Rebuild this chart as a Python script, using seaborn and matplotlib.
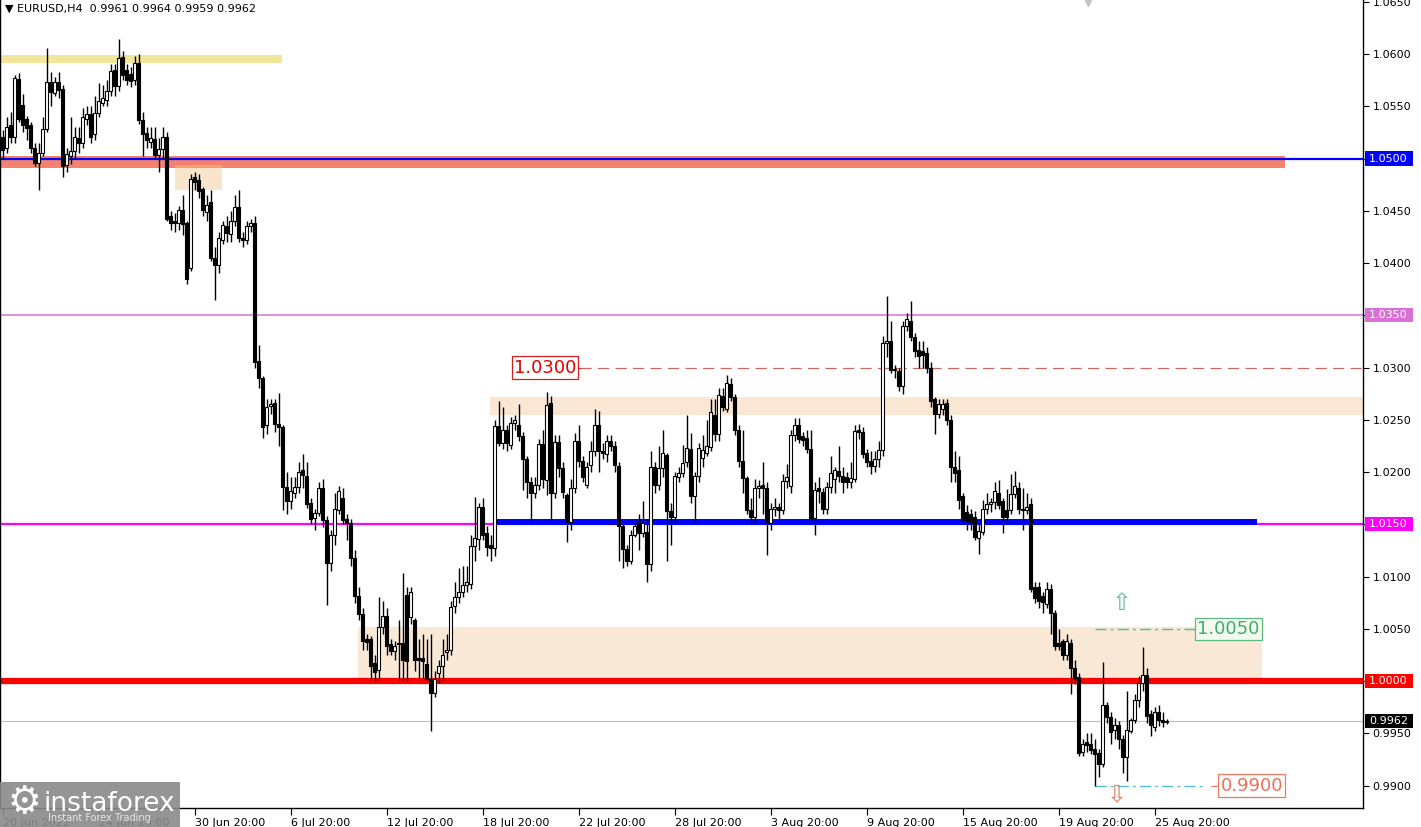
import numpy as np
import matplotlib
matplotlib.use("Agg")
import matplotlib.pyplot as plt
import matplotlib.transforms as mtransforms
from matplotlib.patches import Rectangle
import seaborn as sns

# EURUSD H4 candles (index 0 = 20 Jun 2022)
opens = [
    1.0521, 1.0510, 1.0532, 1.0521, 1.0576, 1.0551, 1.0538, 1.0532, 1.0510, 1.0496, 1.0505, 1.0528,
    1.0573, 1.0563, 1.0573, 1.0567, 1.0494, 1.0502, 1.0507, 1.0520, 1.0515, 1.0538, 1.0543, 1.0523,
    1.0544, 1.0553, 1.0556, 1.0565, 1.0585, 1.0569, 1.0597, 1.0585, 1.0581, 1.0575, 1.0591, 1.0537,
    1.0524, 1.0516, 1.0519, 1.0503, 1.0509, 1.0521, 1.0445, 1.0440, 1.0438, 1.0451, 1.0438, 1.0395,
    1.0482, 1.0479, 1.0471, 1.0449, 1.0458, 1.0405, 1.0398, 1.0422, 1.0435, 1.0428, 1.0440, 1.0454,
    1.0424, 1.0422, 1.0435, 1.0438, 1.0306, 1.0290, 1.0245, 1.0263, 1.0266, 1.0246, 1.0243, 1.0186,
    1.0172, 1.0180, 1.0186, 1.0202, 1.0196, 1.0170, 1.0156, 1.0161, 1.0185, 1.0154, 1.0113, 1.0140,
    1.0164, 1.0175, 1.0155, 1.0151, 1.0118, 1.0081, 1.0064, 1.0040, 1.0040, 1.0017, 1.0011, 1.0052,
    1.0062, 1.0035, 1.0029, 1.0035, 1.0036, 1.0082, 1.0061, 1.0058, 1.0022, 1.0022, 1.0016, 1.0002,
    0.9989, 1.0008, 1.0014, 1.0028, 1.0030, 1.0072, 1.0080, 1.0085, 1.0092, 1.0093, 1.0129, 1.0136,
    1.0167, 1.0142, 1.0130, 1.0127, 1.0244, 1.0228, 1.0240, 1.0226, 1.0247, 1.0245, 1.0234, 1.0212,
    1.0190, 1.0180, 1.0188, 1.0227, 1.0192, 1.0266, 1.0180, 1.0229, 1.0204, 1.0178, 1.0152, 1.0185,
    1.0230, 1.0211, 1.0188, 1.0207, 1.0220, 1.0245, 1.0220, 1.0217, 1.0230, 1.0225, 1.0206, 1.0148,
    1.0126, 1.0115, 1.0140, 1.0153, 1.0142, 1.0143, 1.0112, 1.0205, 1.0188, 1.0204, 1.0216, 1.0163,
    1.0157, 1.0195, 1.0199, 1.0210, 1.0222, 1.0177, 1.0196, 1.0213, 1.0218, 1.0224, 1.0255, 1.0236,
    1.0273, 1.0260, 1.0284, 1.0272, 1.0240, 1.0211, 1.0194, 1.0164, 1.0157, 1.0185, 1.0188, 1.0185,
    1.0151, 1.0165, 1.0167, 1.0164, 1.0191, 1.0187, 1.0235, 1.0245, 1.0234, 1.0233, 1.0222, 1.0156,
    1.0185, 1.0181, 1.0165, 1.0186, 1.0193, 1.0201, 1.0196, 1.0195, 1.0190, 1.0193, 1.0240, 1.0238,
    1.0218, 1.0211, 1.0206, 1.0212, 1.0221, 1.0323, 1.0325, 1.0298, 1.0297, 1.0282, 1.0340, 1.0345,
    1.0329, 1.0317, 1.0316, 1.0314, 1.0300, 1.0270, 1.0256, 1.0260, 1.0266, 1.0250, 1.0205, 1.0202,
    1.0177, 1.0162, 1.0160, 1.0157, 1.0137, 1.0143, 1.0165, 1.0169, 1.0171, 1.0180, 1.0172, 1.0164,
    1.0164, 1.0179, 1.0185, 1.0165, 1.0164, 1.0169, 1.0090, 1.0090, 1.0081, 1.0074, 1.0088, 1.0065,
    1.0036, 1.0038, 1.0025, 1.0036, 1.0012, 1.0004, 0.9932, 0.9942, 0.9940, 0.9935, 0.9931, 0.9921,
    0.9977, 0.9966, 0.9953, 0.9958, 0.9945, 0.9927, 0.9952, 0.9963, 0.9982, 0.9998, 1.0006, 0.9968,
    0.9956, 0.9970, 0.9963, 0.9961,
]
highs = [
    1.0527, 1.0540, 1.0545, 1.0580, 1.0582, 1.0562, 1.0541, 1.0535, 1.0515, 1.0515, 1.0540, 1.0606,
    1.0583, 1.0578, 1.0583, 1.0570, 1.0510, 1.0540, 1.0530, 1.0530, 1.0548, 1.0550, 1.0550, 1.0560,
    1.0572, 1.0570, 1.0575, 1.0590, 1.0590, 1.0614, 1.0603, 1.0590, 1.0588, 1.0598, 1.0600, 1.0545,
    1.0530, 1.0530, 1.0530, 1.0520, 1.0530, 1.0525, 1.0450, 1.0448, 1.0455, 1.0465, 1.0440, 1.0485,
    1.0487, 1.0485, 1.0473, 1.0465, 1.0470, 1.0415, 1.0430, 1.0440, 1.0445, 1.0450, 1.0465, 1.0470,
    1.0430, 1.0440, 1.0442, 1.0445, 1.0322, 1.0292, 1.0270, 1.0270, 1.0270, 1.0276, 1.0245, 1.0200,
    1.0195, 1.0195, 1.0210, 1.0217, 1.0210, 1.0175, 1.0165, 1.0190, 1.0193, 1.0158, 1.0145, 1.0180,
    1.0187, 1.0185, 1.0160, 1.0155, 1.0125, 1.0090, 1.0070, 1.0045, 1.0043, 1.0025, 1.0080, 1.0077,
    1.0070, 1.0040, 1.0038, 1.0058, 1.0103, 1.0090, 1.0090, 1.0060, 1.0040, 1.0045, 1.0040, 1.0045,
    1.0010, 1.0020, 1.0040, 1.0045, 1.0077, 1.0095, 1.0108, 1.0110, 1.0110, 1.0140, 1.0176, 1.0170,
    1.0175, 1.0148, 1.0140, 1.0250, 1.0268, 1.0262, 1.0245, 1.0253, 1.0255, 1.0265, 1.0238, 1.0215,
    1.0195, 1.0195, 1.0232, 1.0240, 1.0277, 1.0273, 1.0235, 1.0235, 1.0210, 1.0180, 1.0193, 1.0237,
    1.0245, 1.0215, 1.0210, 1.0230, 1.0260, 1.0258, 1.0228, 1.0235, 1.0235, 1.0230, 1.0210, 1.0150,
    1.0130, 1.0145, 1.0155, 1.0160, 1.0172, 1.0155, 1.0220, 1.0210, 1.0225, 1.0240, 1.0218, 1.0170,
    1.0200, 1.0205, 1.0226, 1.0255, 1.0237, 1.0200, 1.0228, 1.0235, 1.0250, 1.0270, 1.0270, 1.0280,
    1.0280, 1.0293, 1.0290, 1.0275, 1.0245, 1.0240, 1.0196, 1.0175, 1.0193, 1.0192, 1.0210, 1.0190,
    1.0170, 1.0175, 1.0170, 1.0198, 1.0208, 1.0240, 1.0252, 1.0252, 1.0238, 1.0240, 1.0240, 1.0190,
    1.0195, 1.0185, 1.0190, 1.0215, 1.0205, 1.0225, 1.0205, 1.0200, 1.0210, 1.0245, 1.0246, 1.0243,
    1.0222, 1.0220, 1.0220, 1.0230, 1.0330, 1.0368, 1.0345, 1.0302, 1.0300, 1.0345, 1.0352, 1.0364,
    1.0333, 1.0325, 1.0325, 1.0320, 1.0305, 1.0272, 1.0270, 1.0270, 1.0270, 1.0255, 1.0220, 1.0215,
    1.0180, 1.0168, 1.0165, 1.0163, 1.0150, 1.0173, 1.0180, 1.0175, 1.0190, 1.0192, 1.0175, 1.0184,
    1.0198, 1.0201, 1.0190, 1.0185, 1.0180, 1.0175, 1.0095, 1.0095, 1.0085, 1.0095, 1.0093, 1.0068,
    1.0050, 1.0040, 1.0045, 1.0040, 1.0020, 1.0008, 0.9945, 0.9950, 0.9950, 0.9945, 0.9935, 1.0018,
    0.9980, 0.9970, 0.9965, 0.9962, 0.9948, 0.9990, 0.9965, 0.9988, 1.0005, 1.0033, 1.0012, 0.9972,
    0.9975, 0.9977, 0.9970, 0.9964,
]
lows = [
    1.0500, 1.0505, 1.0515, 1.0515, 1.0535, 1.0525, 1.0518, 1.0505, 1.0493, 1.0470, 1.0502, 1.0525,
    1.0550, 1.0560, 1.0558, 1.0482, 1.0487, 1.0495, 1.0500, 1.0505, 1.0510, 1.0532, 1.0515, 1.0518,
    1.0540, 1.0550, 1.0550, 1.0560, 1.0560, 1.0565, 1.0575, 1.0570, 1.0568, 1.0570, 1.0533, 1.0502,
    1.0510, 1.0510, 1.0500, 1.0487, 1.0500, 1.0440, 1.0432, 1.0430, 1.0432, 1.0427, 1.0380, 1.0392,
    1.0470, 1.0462, 1.0445, 1.0440, 1.0402, 1.0365, 1.0390, 1.0418, 1.0420, 1.0420, 1.0435, 1.0420,
    1.0415, 1.0418, 1.0430, 1.0300, 1.0280, 1.0233, 1.0236, 1.0256, 1.0238, 1.0225, 1.0164, 1.0160,
    1.0165, 1.0175, 1.0180, 1.0185, 1.0166, 1.0150, 1.0145, 1.0158, 1.0147, 1.0073, 1.0105, 1.0130,
    1.0160, 1.0150, 1.0135, 1.0110, 1.0075, 1.0058, 1.0030, 1.0030, 1.0001, 1.0000, 1.0001, 1.0045,
    1.0025, 1.0025, 1.0020, 1.0001, 1.0001, 1.0000, 1.0055, 1.0010, 1.0003, 1.0003, 1.0001, 0.9952,
    0.9985, 0.9998, 1.0001, 1.0020, 1.0025, 1.0065, 1.0075, 1.0080, 1.0085, 1.0088, 1.0115, 1.0125,
    1.0135, 1.0120, 1.0115, 1.0120, 1.0225, 1.0222, 1.0220, 1.0222, 1.0240, 1.0230, 1.0183, 1.0175,
    1.0153, 1.0175, 1.0183, 1.0185, 1.0178, 1.0153, 1.0175, 1.0195, 1.0175, 1.0133, 1.0145, 1.0180,
    1.0205, 1.0190, 1.0185, 1.0200, 1.0215, 1.0200, 1.0212, 1.0210, 1.0220, 1.0200, 1.0115, 1.0108,
    1.0110, 1.0112, 1.0138, 1.0125, 1.0138, 1.0095, 1.0105, 1.0180, 1.0183, 1.0195, 1.0115, 1.0130,
    1.0150, 1.0190, 1.0195, 1.0205, 1.0170, 1.0152, 1.0190, 1.0205, 1.0215, 1.0220, 1.0230, 1.0230,
    1.0258, 1.0257, 1.0268, 1.0235, 1.0205, 1.0180, 1.0160, 1.0150, 1.0150, 1.0175, 1.0160, 1.0121,
    1.0145, 1.0158, 1.0155, 1.0160, 1.0185, 1.0180, 1.0230, 1.0228, 1.0225, 1.0218, 1.0152, 1.0140,
    1.0170, 1.0160, 1.0160, 1.0180, 1.0180, 1.0190, 1.0180, 1.0185, 1.0185, 1.0190, 1.0232, 1.0213,
    1.0205, 1.0198, 1.0200, 1.0205, 1.0215, 1.0310, 1.0295, 1.0290, 1.0278, 1.0275, 1.0335, 1.0325,
    1.0310, 1.0300, 1.0300, 1.0295, 1.0262, 1.0236, 1.0252, 1.0255, 1.0245, 1.0190, 1.0190, 1.0165,
    1.0150, 1.0145, 1.0145, 1.0135, 1.0122, 1.0140, 1.0160, 1.0162, 1.0165, 1.0165, 1.0142, 1.0150,
    1.0160, 1.0175, 1.0160, 1.0145, 1.0160, 1.0085, 1.0075, 1.0070, 1.0065, 1.0070, 1.0045, 1.0030,
    1.0030, 1.0020, 1.0020, 0.9988, 0.9997, 0.9928, 0.9928, 0.9932, 0.9930, 0.9900, 0.9908, 0.9918,
    0.9960, 0.9940, 0.9945, 0.9935, 0.9912, 0.9904, 0.9950, 0.9960, 0.9975, 0.9990, 0.9960, 0.9947,
    0.9952, 0.9957, 0.9956, 0.9959,
]
closes = [
    1.0508, 1.0530, 1.0521, 1.0577, 1.0538, 1.0532, 1.0529, 1.0510, 1.0496, 1.0505, 1.0528, 1.0573,
    1.0564, 1.0573, 1.0566, 1.0493, 1.0504, 1.0507, 1.0521, 1.0515, 1.0540, 1.0543, 1.0521, 1.0544,
    1.0555, 1.0558, 1.0565, 1.0584, 1.0569, 1.0596, 1.0580, 1.0575, 1.0574, 1.0591, 1.0537, 1.0523,
    1.0518, 1.0520, 1.0503, 1.0509, 1.0521, 1.0442, 1.0438, 1.0438, 1.0451, 1.0437, 1.0385, 1.0480,
    1.0478, 1.0469, 1.0451, 1.0456, 1.0405, 1.0398, 1.0424, 1.0436, 1.0429, 1.0440, 1.0454, 1.0424,
    1.0422, 1.0435, 1.0438, 1.0305, 1.0290, 1.0243, 1.0262, 1.0265, 1.0246, 1.0243, 1.0186, 1.0172,
    1.0182, 1.0186, 1.0200, 1.0197, 1.0169, 1.0155, 1.0161, 1.0185, 1.0154, 1.0113, 1.0140, 1.0165,
    1.0182, 1.0154, 1.0151, 1.0118, 1.0081, 1.0064, 1.0038, 1.0037, 1.0014, 1.0009, 1.0052, 1.0062,
    1.0034, 1.0029, 1.0034, 1.0036, 1.0020, 1.0019, 1.0085, 1.0020, 1.0020, 1.0019, 1.0002, 0.9989,
    1.0002, 1.0014, 1.0025, 1.0030, 1.0071, 1.0080, 1.0085, 1.0092, 1.0095, 1.0129, 1.0137, 1.0167,
    1.0140, 1.0128, 1.0127, 1.0244, 1.0228, 1.0240, 1.0228, 1.0247, 1.0250, 1.0234, 1.0212, 1.0190,
    1.0180, 1.0188, 1.0227, 1.0193, 1.0264, 1.0180, 1.0229, 1.0204, 1.0181, 1.0152, 1.0185, 1.0230,
    1.0211, 1.0195, 1.0205, 1.0220, 1.0245, 1.0220, 1.0218, 1.0230, 1.0225, 1.0207, 1.0148, 1.0126,
    1.0115, 1.0140, 1.0148, 1.0142, 1.0151, 1.0112, 1.0205, 1.0188, 1.0204, 1.0218, 1.0163, 1.0157,
    1.0196, 1.0199, 1.0209, 1.0223, 1.0177, 1.0196, 1.0223, 1.0221, 1.0225, 1.0257, 1.0236, 1.0274,
    1.0262, 1.0285, 1.0272, 1.0240, 1.0211, 1.0194, 1.0164, 1.0157, 1.0185, 1.0187, 1.0185, 1.0151,
    1.0165, 1.0167, 1.0164, 1.0191, 1.0195, 1.0235, 1.0245, 1.0232, 1.0231, 1.0222, 1.0156, 1.0183,
    1.0182, 1.0165, 1.0186, 1.0199, 1.0202, 1.0196, 1.0190, 1.0190, 1.0194, 1.0239, 1.0238, 1.0217,
    1.0210, 1.0206, 1.0212, 1.0221, 1.0323, 1.0325, 1.0298, 1.0299, 1.0282, 1.0340, 1.0346, 1.0329,
    1.0316, 1.0311, 1.0312, 1.0300, 1.0268, 1.0256, 1.0265, 1.0265, 1.0250, 1.0205, 1.0199, 1.0173,
    1.0154, 1.0154, 1.0152, 1.0138, 1.0144, 1.0165, 1.0169, 1.0171, 1.0182, 1.0168, 1.0157, 1.0157,
    1.0179, 1.0187, 1.0165, 1.0164, 1.0167, 1.0088, 1.0079, 1.0077, 1.0076, 1.0088, 1.0065, 1.0034,
    1.0034, 1.0025, 1.0038, 1.0012, 1.0003, 0.9931, 0.9940, 0.9939, 0.9934, 0.9930, 0.9921, 0.9977,
    0.9966, 0.9951, 0.9958, 0.9945, 0.9927, 0.9953, 0.9963, 0.9982, 0.9998, 1.0006, 0.9967, 0.9958,
    0.9970, 0.9963, 0.9961, 0.9962,
]

tick_idx = [0, 24, 48, 72, 96, 120, 144, 168, 192, 216, 240, 264, 288]
tick_labels = ["20 Jun 2022", "24 Jun 20:00", "30 Jun 20:00", "6 Jul 20:00", "12 Jul 20:00",
               "18 Jul 20:00", "22 Jul 20:00", "28 Jul 20:00", "3 Aug 20:00", "9 Aug 20:00",
               "15 Aug 20:00", "19 Aug 20:00", "25 Aug 20:00"]
price_ticks = [0.9900, 0.9950, 1.0000, 1.0050, 1.0100, 1.0150, 1.0200, 1.0250, 1.0300,
               1.0350, 1.0400, 1.0450, 1.0500, 1.0550, 1.0600, 1.0650]

# Settings
sns.set_theme(style="white")
plt.rcParams['font.family'] = ['DejaVu Sans']

W, H = 1421, 827
fig = plt.figure(figsize=(W / 100, H / 100), dpi=100)
ax = fig.add_axes([0, (H - 808) / H, 1363 / W, 808 / H])

ymin, ymax = 0.98785, 1.06517
xmin, xmax = -0.675, 340.1
ax.set_xlim(xmin, xmax)
ax.set_ylim(ymin, ymax)

# zones / levels
ax.axhspan(1.0591, 1.0599, xmin=0, xmax=(69.8 - xmin) / (xmax - xmin), color='#f2e69a', zorder=1, lw=0)
ax.axhspan(1.0491, 1.0502, xmin=0, xmax=(320.6 - xmin) / (xmax - xmin), color='#f4826e', zorder=1, lw=0)
ax.add_patch(Rectangle((43.1, 1.0470), 11.7, 0.0024, color='#f9e4cc', zorder=1, lw=0))
ax.add_patch(Rectangle((43.1, 1.0491), 11.7, 0.0003, color='#f6a06b', zorder=1, lw=0))
ax.axhspan(1.0255, 1.0272, xmin=(121.8 - xmin) / (xmax - xmin), xmax=1, color='#f9e7d4', zorder=1, lw=0)
ax.add_patch(Rectangle((88.8, 1.0000), 226.0, 0.0052, color='#f9e8d6', zorder=1, lw=0))

ax.axhline(1.0500, color='#0000ff', lw=1.6, zorder=2)
ax.axhline(1.0350, color='#da70d6', lw=1.1, zorder=2)
ax.axhline(1.0150, color='#ff00ff', lw=1.6, zorder=2)
ax.plot([123, 313.6], [1.01525, 1.01525], color='#0000ff', lw=4.3, zorder=2, solid_capstyle='butt')
ax.axhline(1.0000, color='#ff0000', lw=4.5, zorder=2)
ax.axhline(0.9962, color='#c0c0c0', lw=0.8, zorder=2)
ax.plot([144.3, xmax], [1.0300, 1.0300], color='#c86a64', lw=0.9, dashes=(9, 5), zorder=2)
ax.plot([273, 296.8], [1.0050, 1.0050], color='#4cc09a', lw=1.0, dashes=(8, 3, 2, 3), zorder=2)
ax.plot([296.8, 298.6], [1.0050, 1.0050], color='#4cc09a', lw=1.0, zorder=2)
ax.plot([273, 300.6], [0.9900, 0.9900], color='#52bfd0', lw=1.0, dashes=(8, 3, 2, 3), zorder=2)
ax.plot([302, 304.8], [0.9900, 0.9900], color='#e8806a', lw=0.9, zorder=2)
ax.plot([144.3, 141.3], [1.0300, 1.0300], color='#d03030', lw=0.9, zorder=2)

# candles
x = np.arange(len(closes))
o = np.array(opens)
c = np.array(closes)
ax.vlines(x, lows, highs, color='black', lw=1.0, zorder=3)
bottom = np.minimum(o, c)
height = np.maximum(np.abs(c - o), 0.00003)
fill = np.where(c >= o, 'white', 'black')
ax.bar(x, height, bottom=bottom, width=0.72, color=fill, edgecolor='black', linewidth=0.8, zorder=4)

# level label boxes on chart
ax.text(135.6, 1.0300, "1.0300", fontsize=13, color='#e00000', ha='center', va='center', zorder=6,
        bbox=dict(boxstyle='square,pad=0.12', fc='white', ec='#d02020', lw=0.9))
ax.text(306.4, 1.0050, "1.0050", fontsize=13, color='#3cae6a', ha='center', va='center', zorder=6,
        bbox=dict(boxstyle='square,pad=0.12', fc='#f3fbf1', ec='#5cb880', lw=0.9))
ax.text(312.3, 0.9900, "0.9900", fontsize=13, color='#ee7055', ha='center', va='center', zorder=6,
        bbox=dict(boxstyle='square,pad=0.12', fc='white', ec='#ee7a60', lw=0.9))
ax.text(279.8, 1.0075, "\u21e7", fontsize=17, color='#5cc0a0', ha='center', va='center', zorder=6)
ax.text(278.6, 0.9892, "\u21e9", fontsize=17, color='#ee7a60', ha='center', va='center', zorder=6)
ax.plot([271.3], [ymax - 0.00025], marker='v', ms=5, color='#c4c4c4', clip_on=False, zorder=6)

# axes styling
ax.spines['top'].set_visible(False)
for s in ['left', 'right', 'bottom']:
    ax.spines[s].set_color('black')
    ax.spines[s].set_linewidth(1.0)
ax.grid(False)
ax.set_facecolor('white')

ax.yaxis.tick_right()
ax.set_yticks(price_ticks)
special = {1.0500, 1.0350, 1.0150, 1.0000}
ax.set_yticklabels(['' if round(p, 4) in special else f'{p:.4f}' for p in price_ticks])
ax.tick_params(axis='y', right=True, left=False, direction='out', length=4, width=0.8,
               pad=3, labelsize=8, colors='black')
ax.set_xticks(tick_idx)
ax.set_xticklabels(tick_labels, ha='left')
ax.tick_params(axis='x', bottom=True, direction='out', length=5, width=0.8, pad=2,
               labelsize=8, colors='black')

# coloured price tags on the right scale
trans = mtransforms.blended_transform_factory(ax.transAxes, ax.transData)
tags = [(1.0500, '#0000ff', '1.0500'), (1.0350, '#da70d6', '1.0350'), (1.0150, '#ff00ff', '1.0150'),
        (1.0000, '#ff0000', '1.0000'), (0.9962, '#000000', '0.9962')]
for yv, col, txt in tags:
    ax.add_patch(Rectangle((1365 / 1363, yv - 0.00068), 48 / 1363, 0.00136, transform=trans,
                           color=col, clip_on=False, zorder=6, lw=0))
    ax.text(1369 / 1363, yv, txt, transform=trans, fontsize=8, color='white', ha='left',
            va='center', zorder=7, clip_on=False)

# header
fig.text(5 / W, 1 - 9 / H, "\u25bc EURUSD,H4  0.9961 0.9964 0.9959 0.9962", fontsize=8,
         ha='left', va='center', color='black')

# watermark logo (sits over the first date labels, as in the original)
fig.patches.append(Rectangle((0, 0), 180 / W, 45 / H, transform=fig.transFigure,
                             fc='#8a8a8a', ec='none', alpha=0.9, zorder=10))
fig.text(24 / W, 1 - 803 / H, "\u2699", fontsize=27, color='white', ha='center', va='center', zorder=11)
fig.text(44 / W, 1 - 811 / H, "instaforex", fontsize=19, color='white', ha='left',
         va='baseline', zorder=11)
fig.text(48 / W, 1 - 818 / H, "Instant Forex Trading", fontsize=7, color='#e6e6e6', ha='left',
         va='center', zorder=11)

fig.savefig("out.png", dpi=100)
plt.close(fig)
